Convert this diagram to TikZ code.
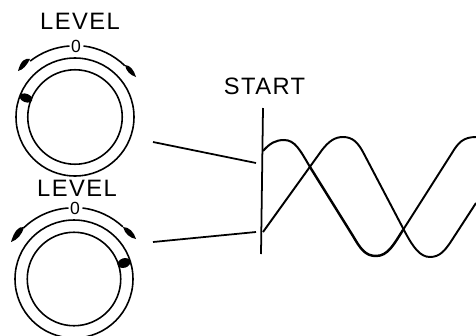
\documentclass[tikz,border=0pt]{standalone}
\usepackage{fontspec}
\setmainfont[LetterSpace=6]{Liberation Sans}
\usepackage{tikz}
\usetikzlibrary{arrows, arrows.meta, shapes.geometric}

\begin{document}
\begin{tikzpicture}[x=0.02cm, y=-0.02cm, line width=0.75pt]
\useasboundingbox (0,0) rectangle (476,335);

\begin{scope}[every node/.style={circle, draw, inner sep=0pt, line width=0.9pt}]
  \node[minimum size=2.36cm] (outerA) at (75,117) {};
  \node[minimum size=1.89cm] (innerA) at (75,117) {};
  \node[minimum size=2.36cm] (outerB) at (74,279) {};
  \node[minimum size=1.87cm] (innerB) at (74,279) {};
\end{scope}

\begin{scope}[every node/.style={ellipse, fill, inner sep=0pt}]
  \node[minimum width=7.5pt, minimum height=4.8pt, rotate=-21] (pointerA) at (26,98) {};
  \node[minimum width=7.5pt, minimum height=5.4pt, rotate=18] (pointerB) at (124,263) {};
\end{scope}

\begin{scope}[every node/.style={font=\fontsize{13.5pt}{15pt}\selectfont}]
  \node (levelA) at (80,21) {LEVEL};
  \node (levelB) at (77,188) {LEVEL};
  \node (start) at (264.5,86) {START};
\end{scope}

\begin{scope}[every node/.style={font=\fontsize{10pt}{11pt}\selectfont, inner sep=0pt}]
  \node (zeroA) at (76,46) {0};
  \node (zeroB) at (75,208) {0};
\end{scope}

% travel arcs round the knobs
\draw[line width=0.9pt] (zeroA.west) ++(-1,0) arc[start angle=-94, end angle=-128, radius=72];
\draw[line width=0.9pt] (zeroA.east) ++(2,0) arc[start angle=-83, end angle=-46, radius=72];
\draw[line width=0.9pt] (zeroB.west) ++(-1,0) arc[start angle=-94, end angle=-134, radius=72];
\draw[line width=0.9pt] (zeroB.east) ++(2,0) arc[start angle=-83, end angle=-47, radius=72];

% and their heads
\fill (30,59) .. controls (25,58) and (21,60) .. (18,71) .. controls (23,70) and (27,65) .. (30,59);
\fill (125,65) .. controls (130,65) and (134,70) .. (136,77) .. controls (130,75) and (126,71) .. (125,65);
\fill (24,227) .. controls (18,226) and (14,232) .. (11,242) .. controls (17,240) and (22,235) .. (24,227);
\fill (123,227) .. controls (129,227) and (134,232) .. (136,239) .. controls (130,238) and (125,234) .. (123,227);

% leader lines
\coordinate (leadA) at (153,142);
\coordinate (endA) at (256,163);
\coordinate (leadB) at (153,242);
\coordinate (endB) at (256,232);
\coordinate (startTop) at (263,108);
\coordinate (startBot) at (261,254);
\draw[line width=1pt] (leadA) -- (endA);
\draw[line width=1pt] (leadB) -- (endB);
\draw[line width=1pt] (startTop) -- (startBot);

% the two traces
\draw[line width=1.15pt] (263,151) .. controls (270,143) and (276,140) .. (284,140)
  .. controls (295,140) and (300,150) .. (310,167);
\draw[line width=1.4pt] (310,167) -- (353,236)
  .. controls (360,248) and (365,256) .. (376,256)
  .. controls (388,256) and (394,244) .. (403,230);
\draw[line width=1.1pt] (403,230) -- (452,153) .. controls (458,143) and (463,137) .. (476,137);
\draw[line width=1.1pt] (263,232) -- (322,150) .. controls (329,141) and (335,137) .. (343,137)
  .. controls (353,137) and (358,143) .. (363,152) -- (405,232)
  .. controls (413,247) and (420,257) .. (430,257)
  .. controls (440,257) and (445,250) .. (450,243) -- (476,203);

\end{tikzpicture}
\end{document}
